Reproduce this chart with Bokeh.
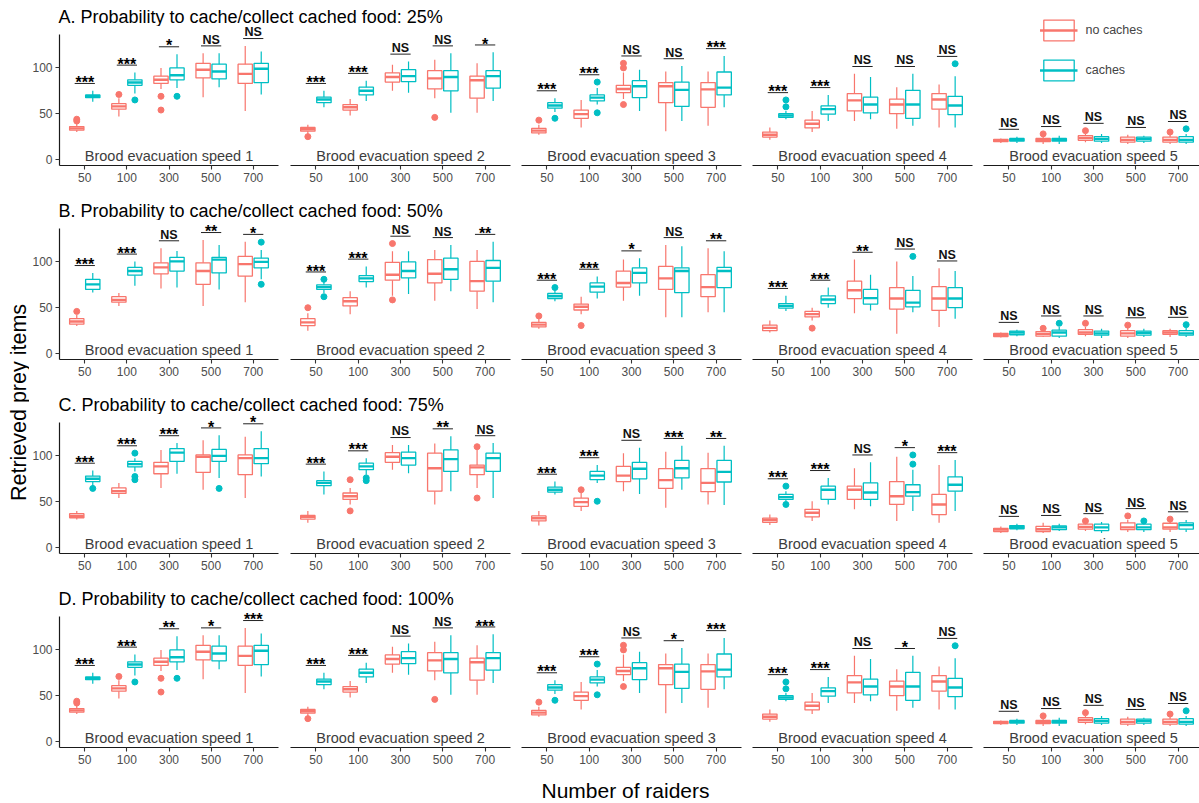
import math
from bokeh.plotting import figure
from bokeh.layouts import row, column
from bokeh.models import ColumnDataSource, FixedTicker, Legend, LegendItem, Range1d
from bokeh.core.properties import value
from bokeh.embed import file_html
from bokeh.resources import INLINE

# ---------------------------------------------------------------- data
raiders = ["50", "100", "300", "500", "700"]
speeds = [1, 2, 3, 4, 5]
groups = ["no caches", "caches"]
row_titles = [
    "A. Probability to cache/collect cached food: 25%",
    "B. Probability to cache/collect cached food: 50%",
    "C. Probability to cache/collect cached food: 75%",
    "D. Probability to cache/collect cached food: 100%",
]

# Box statistics per raider count: [lower whisker, Q1, median, Q3, upper whisker]
# one list of five boxes per brood evacuation speed (1..5)
A_no = [
    [[30, 32, 34, 36, 40], [47, 55, 58, 61, 67], [77, 83, 87, 91, 100], [68, 89, 98, 105, 116], [53, 83, 93.5, 104, 124]],
    [[28, 31, 33, 35, 38], [48, 54, 57, 60, 66], [75, 84.5, 90, 94.5, 103.5], [67, 77, 88.5, 97, 109], [51, 67, 86.5, 91, 105]],
    [[27, 29, 31.5, 34, 38], [35, 45, 49.5, 54, 65], [66, 73, 77, 81, 95], [31, 62, 80, 84, 96], [37, 57, 76.5, 84, 96]],
    [[21.5, 24.5, 27, 30, 35], [30, 34.5, 39, 43, 53], [42, 53, 64.5, 72, 93.5], [33.5, 50, 60, 66, 79], [35, 55, 65.5, 72, 82]],
    [[18, 19.5, 21, 22, 23], [17, 19.5, 21, 23, 25], [19, 21, 23.5, 26, 28], [17, 19, 21.5, 24.5, 27], [17, 19, 21.5, 24.5, 27]],
]
A_ca = [
    [[63, 67.5, 69, 70.5, 75], [72, 81, 84, 87, 95], [78, 87, 92, 100, 115], [79, 88, 96, 104, 116], [71, 84, 99, 105, 118]],
    [[57, 62, 65.5, 68, 75], [64, 70.5, 75, 79, 86], [73, 85, 91, 98, 107], [51, 75, 90, 97, 116], [64, 78, 91, 97, 117]],
    [[52, 56, 59, 62, 67], [60, 64, 67.5, 70.5, 78], [53, 67.5, 80, 86, 98], [42, 58, 76, 84.5, 102], [57, 70.5, 78.5, 95.5, 113]],
    [[44, 46, 48, 50, 53], [42, 49.5, 55, 58.5, 70.5], [44, 51, 60, 68, 90], [37, 45, 60, 75.5, 93.5], [35, 49, 59, 69, 91]],
    [[18, 20, 21.5, 23, 25], [17, 20, 21.5, 23, 26], [18, 20, 22.5, 25, 28], [18, 20, 22.5, 24.5, 26], [17, 19, 21.5, 25, 28]],
]
A_no_out = [[[42, 44], [71], [69, 54], [], []], [[25], [], [], [46], []], [[43], [], [100, 105, 60], [], []],
            [[], [], [], [], []], [[], [28], [31.5], [], [30]]]
A_ca_out = [[[], [65], [69], [], []], [[], [], [], [], []], [[45], [84.5, 51], [], [], []],
            [[57.5, 65], [], [], [], [104.5]], [[], [], [], [], [33.5]]]

B_no = [
    [[30, 32, 35, 38, 42], [52, 56, 58.5, 62, 66], [71, 87, 94, 99, 115], [52, 75.5, 90, 99, 124], [56, 84.5, 97.5, 106, 122]],
    [[25, 30.5, 34, 38, 44], [43, 52, 57, 61, 68], [63, 80, 86, 99.5, 111.5], [57.5, 77, 87, 102.5, 113], [48.5, 68, 79, 100.5, 113]],
    [[27, 29, 31.5, 34, 38], [43, 47.5, 51, 54, 62], [57.5, 72.5, 77, 90, 102.5], [39.5, 70, 82, 95, 118.5], [45, 62, 72.5, 86, 115]],
    [[23, 25, 28, 31, 36], [36, 40, 43, 46, 50], [44, 60, 69, 79, 102.5], [21.5, 48.5, 60, 72, 100.5], [29, 47, 60, 73, 93]],
    [[17.5, 18.5, 20, 22, 23], [18, 19, 21.5, 24, 26], [19, 21, 23, 26, 29], [17, 19, 22, 25, 28], [18, 21, 23, 25, 27]],
]
B_ca = [
    [[66.5, 70, 75.5, 81, 88], [74, 85.5, 90, 94, 100.5], [72, 90, 100.5, 105, 112], [70, 88, 102.5, 105, 118.5], [81, 93.5, 100, 104, 113]],
    [[66, 70, 72.5, 75, 78], [72, 78.5, 82, 85, 95], [65, 82.5, 90, 100, 111.5], [68, 81, 92, 104, 118.5], [56, 79, 93.5, 101.5, 122]],
    [[57, 60, 62.5, 65.5, 69], [60, 67, 73, 77, 84], [63, 77, 88, 93.5, 104], [39.5, 66.5, 90, 93.5, 117], [45, 72, 90, 94, 111.5]],
    [[46.5, 49.5, 52, 54.5, 63], [50, 54.5, 59, 63, 72], [47, 54, 60.5, 70, 86], [45, 51, 55.5, 69, 84.5], [38, 50, 60, 72, 90]],
    [[19, 20.5, 23, 24.5, 26], [17, 19, 23, 25.5, 29], [17, 20, 22, 24.5, 27], [18, 20, 22.5, 24.5, 27], [18, 20, 22, 25, 28]],
]
B_no_out = [[[46], [], [], [], []], [[50], [], [120, 58.5], [], []], [[41], [30.5], [], [], []],
            [[], [27.7], [], [], []], [[], [27.5], [33], [31], []]]
B_ca_out = [[[], [], [], [], [121.5, 75.5]], [[81, 62], [], [], [], []], [[72], [], [], [], []],
            [[], [], [], [106], []], [[], [33], [], [], [31.5]]]

C_no = [
    [[30.5, 32.5, 34.5, 37, 40], [54, 59, 61.5, 65, 70.5], [65, 80.5, 88.5, 93, 106.5], [63, 82, 99, 101, 117], [54, 79.5, 97.5, 101, 121]],
    [[27, 31, 33.5, 35, 40], [47, 52.5, 56, 59.5, 65], [85, 93, 99, 103.5, 112], [47, 61.5, 86.5, 103, 113.5], [65, 79.5, 87.5, 90, 106.5]],
    [[24, 29, 32, 34.5, 40], [40, 45, 49.5, 54, 60], [61.5, 72, 78.5, 88.5, 103], [43.5, 64.5, 73.5, 86, 104.5], [47, 61, 70.5, 86, 103.5]],
    [[24.5, 27.5, 30, 32, 36], [29, 33.5, 38, 41.7, 50.5], [41.7, 52.5, 63, 67, 86.5], [29, 47, 56, 72, 99], [27, 36, 47, 58, 90]],
    [[16, 17.5, 19.5, 21, 23], [16, 17.5, 20, 23, 27], [18, 20, 22.5, 25.5, 27], [17, 19.5, 22, 27, 30], [17, 20, 22, 26.5, 29]],
]
C_ca = [
    [[67, 72, 75, 78, 84], [83, 88, 91, 94, 97.5], [80.5, 94, 103.5, 108, 114], [76, 94, 100, 107, 122.5], [77.5, 91.5, 97.5, 108, 127]],
    [[58, 67.5, 70.5, 73, 83], [79.5, 85, 88.5, 92, 97.5], [81, 90, 97.5, 104, 112], [61.5, 83, 96.5, 106.5, 121.5], [54, 83, 97.5, 103, 114]],
    [[58, 60.5, 63, 66, 72], [70.5, 74, 78.5, 83, 90], [58.5, 75, 86, 93, 109], [63, 76, 86.5, 95, 111], [46.5, 71.5, 82.5, 95, 111]],
    [[50.5, 52.5, 55, 58, 61.5], [47, 52.5, 63, 67, 76], [45, 52.5, 60, 70.5, 93], [40, 56, 60.5, 68.5, 85], [40, 61.5, 68.5, 77, 95.5]],
    [[19, 20.5, 22.5, 24, 26], [18, 19.5, 22, 23.5, 26], [16, 18.5, 22, 25.5, 28], [17, 19.5, 22, 25.5, 27], [17, 20, 24.5, 27, 30]],
]
C_no_out = [[[], [], [], [], []], [[], [74, 40], [], [], [110, 54]], [[], [63], [], [], []],
            [[], [], [], [], []], [[], [], [29], [34.5], [31]]]
C_ca_out = [[[64.5], [103, 77.5, 74], [], [64.5], []], [[], [76, 73], [], [], []], [[], [50.5], [], [], []],
            [[67, 47], [], [], [101, 91], []], [[], [], [], [29], []]]

D_no = [
    [[30, 32, 34, 36, 40], [47, 55, 58, 61, 67], [77, 83, 87, 91, 100], [68, 89, 98, 105, 116], [53, 83, 93.5, 104, 124]],
    [[28, 31, 33, 35, 38], [48, 54, 57, 60, 66], [75, 84.5, 90, 94.5, 103.5], [67, 77, 88.5, 97, 109], [51, 67, 86.5, 91, 105]],
    [[27, 29, 31.5, 34, 38], [35, 45, 49.5, 54, 65], [66, 73, 77, 81, 95], [31, 62, 80, 84, 96], [37, 57, 76.5, 84, 96]],
    [[21.5, 24.5, 27, 30, 35], [30, 34.5, 39, 43, 53], [42, 53, 64.5, 72, 93.5], [33.5, 50, 60, 66, 79], [35, 55, 65.5, 72, 82]],
    [[18, 19.5, 21, 22, 23], [17, 19.5, 21, 23, 25], [19, 21, 23.5, 26, 28], [17, 19, 21.5, 24.5, 27], [17, 19, 21.5, 24.5, 27]],
]
D_ca = [
    [[63, 67.5, 69, 70.5, 75], [72, 81, 84, 87, 95], [78, 87, 92, 100, 115], [79, 88, 96, 104, 116], [71, 84, 99, 105, 118]],
    [[57, 62, 65.5, 68, 75], [64, 70.5, 75, 79, 86], [73, 85, 91, 98, 107], [51, 75, 90, 97, 116], [64, 78, 91, 97, 117]],
    [[52, 56, 59, 62, 67], [60, 64, 67.5, 70.5, 78], [53, 67.5, 80, 86, 98], [42, 58, 76, 84.5, 102], [57, 70.5, 78.5, 95.5, 113]],
    [[44, 46, 48, 50, 53], [42, 49.5, 55, 58.5, 70.5], [44, 51, 60, 68, 90], [37, 45, 60, 75.5, 93.5], [35, 49, 59, 69, 91]],
    [[18, 20, 21.5, 23, 25], [17, 20, 21.5, 23, 26], [18, 20, 22.5, 25, 28], [18, 20, 22.5, 24.5, 26], [17, 19, 21.5, 25, 28]],
]
D_no_out = [[[42, 44], [71], [69, 54], [], []], [[25], [], [], [46], []], [[43], [], [100, 105, 60], [], []],
            [[], [], [], [], []], [[], [28], [31.5], [], [30]]]
D_ca_out = [[[], [65], [69], [], []], [[], [], [], [], []], [[45], [84.5, 51], [], [], []],
            [[57.5, 65], [], [], [], [104.5]], [[], [], [], [], [33.5]]]

# Significance of the caches / no caches comparison
A_sig = [["***", "***", "*", "NS", "NS"], ["***", "***", "NS", "NS", "*"], ["***", "***", "NS", "NS", "***"],
         ["***", "***", "NS", "NS", "NS"], ["NS", "NS", "NS", "NS", "NS"]]
B_sig = [["***", "***", "NS", "**", "*"], ["***", "***", "NS", "NS", "**"], ["***", "***", "*", "NS", "**"],
         ["***", "***", "**", "NS", "NS"], ["NS", "NS", "NS", "NS", "NS"]]
C_sig = [["***", "***", "***", "*", "*"], ["***", "***", "NS", "**", "NS"], ["***", "***", "NS", "***", "**"],
         ["***", "***", "NS", "*", "***"], ["NS", "NS", "NS", "NS", "NS"]]
D_sig = [["***", "***", "**", "*", "***"], ["***", "***", "NS", "NS", "***"], ["***", "***", "NS", "*", "***"],
         ["***", "***", "NS", "*", "NS"], ["NS", "NS", "NS", "NS", "NS"]]

rows_data = [
    (A_no, A_ca, A_no_out, A_ca_out, A_sig),
    (B_no, B_ca, B_no_out, B_ca_out, B_sig),
    (C_no, C_ca, C_no_out, C_ca_out, C_sig),
    (D_no, D_ca, D_no_out, D_ca_out, D_sig),
]

# ---------------------------------------------------------------- style
RED, TEAL = "#F8766D", "#00BFC4"
FONT = "Liberation Sans"
AXIS_COL = "#1a1a1a"
TICK_TXT = "#4D4D4D"

X_START = 0.4            # discrete scale padding
PX_X = 220 / 5.2         # pixels per category step
Y_START = -6.5
PX_Y = 132 / 144.0       # pixels per prey item
BOTTOM = 29              # x-axis band
STRIP_H = 26             # title strip above the panels
PANEL_H = 168
FULL_H = STRIP_H + PANEL_H
DODGE = 0.19
BOX_W = 0.34
SIG_GAP = 8
SIG_HALF = 0.24

# (figure width, left border, right border) for the five speed panels
PANEL_W = [(255, 29, 6), (232, 6, 6), (231, 5, 6), (230, 5, 5), (222, 6, 0)]
YTITLE_W = 29


def blank(w, h):
    p = figure(width=w, height=h, x_range=Range1d(0, w), y_range=Range1d(0, h),
               output_backend="svg", toolbar_location=None, min_border=0,
               x_axis_location=None, y_axis_location=None, outline_line_color=None)
    p.grid.visible = False
    return p


def style_axis(ax):
    ax.axis_line_color = AXIS_COL
    ax.axis_line_width = 1.2
    ax.major_tick_line_color = "#333333"
    ax.major_tick_line_width = 1.1
    ax.major_tick_out = 4
    ax.major_tick_in = 0
    ax.minor_tick_line_color = None
    ax.major_label_text_font = FONT
    ax.major_label_text_font_size = "12px"
    ax.major_label_text_color = TICK_TXT
    ax.major_label_standoff = 3


def make_panel(col, no_stats, ca_stats, no_out, ca_out, sig, speed, with_legend=False):
    w, bl, br = PANEL_W[col]
    h = FULL_H if col == 4 else PANEL_H
    fw = w - bl - br
    fh = h - BOTTOM
    p = figure(width=w, height=h,
               x_range=Range1d(X_START, X_START + fw / PX_X),
               y_range=Range1d(Y_START, Y_START + fh / PX_Y),
               output_backend="svg", toolbar_location=None,
               min_border_left=bl, min_border_right=br, min_border_top=0, min_border_bottom=BOTTOM,
               y_axis_location="left" if col == 0 else None,
               outline_line_color=None)
    p.grid.visible = False

    cats = list(range(1, len(raiders) + 1))
    p.xaxis.ticker = FixedTicker(ticks=cats)
    p.xaxis.major_label_overrides = {c: lab for c, lab in zip(cats, raiders)}
    style_axis(p.xaxis[0])
    if col == 0:
        p.yaxis.ticker = FixedTicker(ticks=[0, 50, 100])
        p.yaxis.bounds = (Y_START, 136)
        style_axis(p.yaxis[0])

    legend_parts = {}
    for gname, stats, outs, off, colr in (("no caches", no_stats, no_out, -DODGE, RED),
                                          ("caches", ca_stats, ca_out, DODGE, TEAL)):
        xs = [c + off for c in cats]
        src = ColumnDataSource(dict(
            x=xs, xl=[x - BOX_W / 2 for x in xs], xr=[x + BOX_W / 2 for x in xs],
            lo=[s[0] for s in stats], q1=[s[1] for s in stats], med=[s[2] for s in stats],
            q3=[s[3] for s in stats], hi=[s[4] for s in stats]))
        p.segment(x0="x", y0="lo", x1="x", y1="q1", source=src, line_color=colr, line_width=1.2)
        p.segment(x0="x", y0="q3", x1="x", y1="hi", source=src, line_color=colr, line_width=1.2)
        box = p.vbar(x="x", width=BOX_W, bottom="q1", top="q3", source=src,
                     fill_color="white", fill_alpha=0.0, line_color=colr, line_width=1.3)
        med = p.segment(x0="xl", y0="med", x1="xr", y1="med", source=src, line_color=colr, line_width=2.4)
        ox, oy = [], []
        for x, o in zip(xs, outs):
            ox += [x] * len(o)
            oy += o
        if ox:
            p.scatter(ox, oy, size=6, color=colr)
        legend_parts[gname] = [box, med]

    # significance brackets
    tops = []
    for i in range(len(cats)):
        vals = [no_stats[i][4], ca_stats[i][4]] + list(no_out[i]) + list(ca_out[i])
        tops.append(max(vals) + SIG_GAP)
    p.segment(x0=[c - SIG_HALF for c in cats], y0=tops, x1=[c + SIG_HALF for c in cats], y1=tops,
              line_color="#222222", line_width=1.0)
    star_x = [c for c, s in zip(cats, sig) if s != "NS"]
    star_y = [t + 1.0 for t, s in zip(tops, sig) if s != "NS"]
    star_t = [s for s in sig if s != "NS"]
    ns_x = [c for c, s in zip(cats, sig) if s == "NS"]
    ns_y = [t + 6.6 for t, s in zip(tops, sig) if s == "NS"]
    if star_x:
        p.text(star_x, star_y, text=star_t, text_align="center", text_baseline="middle",
               text_font=value(FONT), text_font_size="16px", text_font_style="bold", text_color="black")
    if ns_x:
        p.text(ns_x, ns_y, text=["NS"] * len(ns_x), text_align="center", text_baseline="middle",
               text_font=value(FONT), text_font_size="12.5px", text_font_style="bold", text_color="#111111")

    # panel caption
    p.text([(cats[0] + cats[-1]) / 2], [Y_START + 10 / PX_Y], text=[f"Brood evacuation speed {speed}"],
           text_align="center", text_baseline="middle", text_font=value(FONT),
           text_font_size="14.5px", text_color="#3d3d3d")

    if with_legend:
        items = [LegendItem(label=g, renderers=legend_parts[g]) for g in groups]
        leg = Legend(items=items, location="top_center", orientation="vertical",
                     glyph_width=38, glyph_height=26, spacing=14, padding=10, margin=17,
                     label_standoff=8, label_text_font=FONT, label_text_font_size="12.5px",
                     border_line_color=None, background_fill_alpha=0.0)
        p.add_layout(leg)
    return p


blocks = []
strip_w = sum(pw[0] for pw in PANEL_W[:4])
for r, (title, (nos, cas, noo, cao, sigs)) in enumerate(zip(row_titles, rows_data)):
    strip = blank(strip_w, STRIP_H)
    strip.text([PANEL_W[0][1]], [STRIP_H - 16], text=[title], text_align="left", text_baseline="middle",
               text_font=value(FONT), text_font_size="18px", text_color="black")
    panels = [make_panel(i, nos[i], cas[i], noo[i], cao[i], sigs[i], speeds[i], with_legend=(r == 0 and i == 4))
              for i in range(5)]
    blocks.append(row(column(strip, row(*panels[:4])), panels[4]))

body_h = FULL_H * len(blocks)
ytitle = blank(YTITLE_W, body_h)
ytitle.text([18], [body_h - 402], text=["Retrieved prey items"], angle=math.pi / 2,
            text_align="center", text_baseline="middle", text_font=value(FONT),
            text_font_size="21.5px", text_color="black")

xtitle = blank(YTITLE_W + sum(pw[0] for pw in PANEL_W), 803 - body_h)
xtitle.text([625], [13], text=["Number of raiders"], text_align="center", text_baseline="middle",
            text_font=value(FONT), text_font_size="21px", text_color="black")

layout = column(row(ytitle, column(*blocks)), xtitle)

open("out.html", "w").write(file_html(layout, INLINE))
